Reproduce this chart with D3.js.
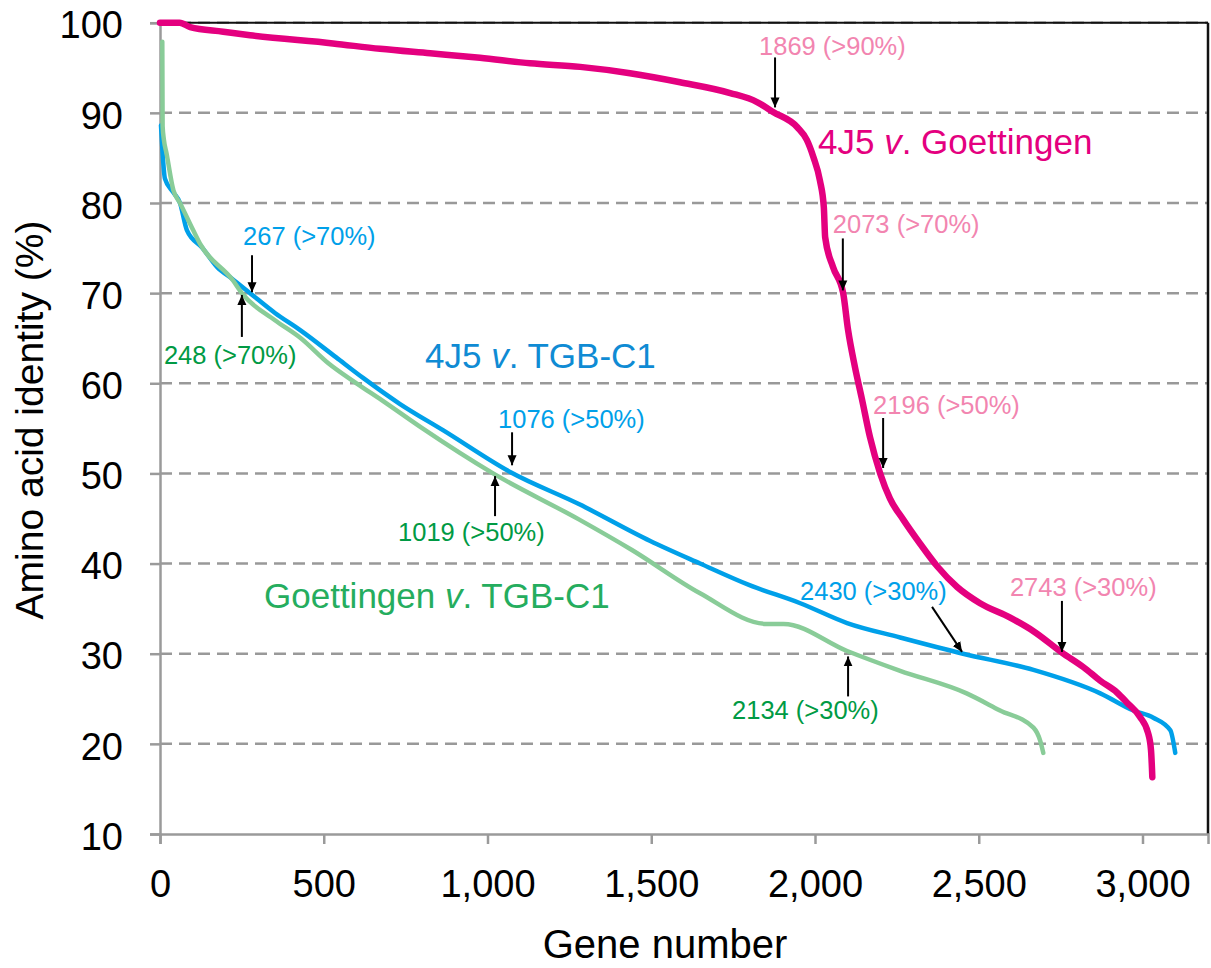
<!DOCTYPE html>
<html>
<head>
<meta charset="utf-8">
<script src="https://cdn.jsdelivr.net/npm/d3@7"></script>
<style>
  body { margin: 0; background: #fff; }
  text { font-family: "Liberation Sans", Arial, sans-serif; }
</style>
</head>
<body>
<div id="chart"></div>
<script>
var w = 1211,
    h = 968;

// 4J5 v. Goettingen
var pinkGene = [0, 60, 92, 193, 275, 528, 672, 825, 977, 1130, 1283, 1435, 1588, 1741, 1823, 1872, 1946, 1975, 1995, 2015, 2027, 2031, 2055, 2086, 2101, 2122, 2143, 2168, 2199, 2229, 2269, 2321, 2373, 2434, 2504, 2596, 2667, 2755, 2820, 2871, 2922, 2952, 2992, 3017, 3026, 3030];
var pinkIdentity = [100, 100, 99.5, 99.0, 98.6, 97.7, 97.1, 96.6, 96.1, 95.5, 95.1, 94.4, 93.4, 92.2, 91.2, 90.1, 88.4, 87.0, 85.1, 82.5, 79.5, 76.2, 72.9, 70.0, 65.9, 61.8, 58.3, 54.0, 50.0, 47.2, 44.9, 42.2, 39.7, 37.4, 35.6, 34.0, 32.5, 30.1, 28.5, 27.0, 25.7, 24.6, 23.0, 21.2, 19.3, 16.3];

// 4J5 v. TGB-C1
var blueGene = [3, 8, 15, 40, 61, 82, 130, 174, 220, 275, 351, 428, 537, 620, 733, 864, 1072, 1279, 1497, 1649, 1800, 1955, 2098, 2260, 2452, 2667, 2871, 2972, 3033, 3085, 3100];
var blueIdentity = [88.6, 85.5, 82.7, 81.2, 80.0, 77.0, 75.0, 72.9, 71.6, 70.0, 67.8, 65.9, 62.9, 60.6, 57.7, 54.8, 50.1, 46.6, 42.5, 40.0, 37.6, 35.6, 33.4, 31.8, 30.0, 28.2, 25.6, 23.7, 22.9, 21.5, 19.0];

// Goettingen v. TGB-C1
var greenGene = [7, 8, 12, 20, 41, 61, 101, 122, 223, 250, 351, 430, 515, 600, 678, 797, 1017, 1279, 1441, 1649, 1853, 1904, 2098, 2260, 2463, 2565, 2667, 2688, 2697];
var greenIdentity = [97.9, 88.5, 87.0, 85.5, 81.4, 80.0, 77.0, 75.5, 71.4, 70.0, 67.0, 65.0, 62.2, 60.0, 58.1, 55.1, 50.0, 44.9, 41.5, 36.7, 33.3, 33.3, 30.3, 28.1, 25.6, 23.7, 21.8, 20.3, 19.0];

var xTicks = [0, 500, 1000, 1500, 2000, 2500, 3000];
var yTicks = [10, 20, 30, 40, 50, 60, 70, 80, 90, 100];

// threshold callouts: text, gene, identity at arrow tip
var calloutText = ["1869 (>90%)", "2073 (>70%)", "2196 (>50%)", "2743 (>30%)",
                   "267 (>70%)", "1076 (>50%)", "2430 (>30%)",
                   "248 (>70%)", "1019 (>50%)", "2134 (>30%)"];
var calloutGene = [1878, 2085, 2208, 2754, 281, 1075, 2449, 250, 1023, 2101];
var calloutIdentity = [90.6, 70.3, 50.6, 30.2, 70.1, 50.9, 30.2, 69.8, 49.7, 29.7];

var margin = {left: 160, top: 22.7, right: 3, bottom: 134};

var x = d3.scaleLinear().domain([0, 3200]).range([margin.left, w - margin.right]);
var y = d3.scaleLinear().domain([10, 100]).range([h - margin.bottom, margin.top]);

var svg = d3.select("#chart")
    .append("svg")
    .attr("width", w)
    .attr("height", h);

var defs = svg.append("defs");
defs.append("marker")
    .attr("id", "head")
    .attr("viewBox", "0 0 10 12")
    .attr("refX", 10)
    .attr("refY", 6)
    .attr("markerWidth", 10)
    .attr("markerHeight", 12)
    .attr("markerUnits", "userSpaceOnUse")
    .attr("orient", "auto")
    .append("path")
    .attr("d", "M0,1.5 L10,6 L0,10.5 Z")
    .attr("fill", "#000");

// gridlines
svg.append("g")
    .selectAll("line")
    .data(yTicks.slice(1))
    .enter()
    .append("line")
    .attr("x1", x(0))
    .attr("x2", x(3200))
    .attr("y1", function(d) { return y(d); })
    .attr("y2", function(d) { return y(d); })
    .attr("stroke", "#999")
    .attr("stroke-width", 2.5)
    .attr("stroke-dasharray", "12,7");

// frame top + right
svg.append("line")
    .attr("x1", x(0)).attr("x2", x(3200))
    .attr("y1", y(100)).attr("y2", y(100))
    .attr("stroke", "#111").attr("stroke-width", 2);
svg.append("line")
    .attr("x1", x(3200)).attr("x2", x(3200))
    .attr("y1", y(100)).attr("y2", y(10))
    .attr("stroke", "#111").attr("stroke-width", 2.5);

// axes
var yAxis = svg.append("g")
    .attr("transform", "translate(" + x(0) + ",0)")
    .call(d3.axisLeft(y).tickValues(yTicks).tickSize(10).tickPadding(27));
var xAxis = svg.append("g")
    .attr("transform", "translate(0," + y(10) + ")")
    .call(d3.axisBottom(x).tickValues(xTicks).tickSize(10).tickPadding(26).tickFormat(d3.format(",")));

[xAxis, yAxis].forEach(function(a) {
    a.select(".domain").attr("stroke", "#9a9a9a").attr("stroke-width", 2.5);
    a.selectAll(".tick line").attr("stroke", "#9a9a9a").attr("stroke-width", 2.5);
    a.selectAll(".tick text")
        .attr("fill", "#000")
        .style("font-size", "38px")
        .style("font-family", "'Liberation Sans', Arial, sans-serif");
});
yAxis.selectAll(".tick text").attr("dy", "0.4em");

// axis titles
svg.append("text")
    .attr("x", 665)
    .attr("y", 958)
    .attr("text-anchor", "middle")
    .style("font-size", "40px")
    .text("Gene number");

svg.append("text")
    .attr("transform", "translate(43,420) rotate(-90)")
    .attr("text-anchor", "middle")
    .style("font-size", "39px")
    .text("Amino acid identity (%)");

// curves
var line = d3.line()
    .curve(d3.curveMonotoneX)
    .x(function(d) { return x(d[0]); })
    .y(function(d) { return y(d[1]); });

function pairs(g, v) {
    return g.map(function(d, i) { return [d, v[i]]; });
}

var series = [
    {name: "blue", data: pairs(blueGene, blueIdentity), color: "#00a0e9", width: 4.5},
    {name: "pink", data: pairs(pinkGene, pinkIdentity), color: "#e4007f", width: 6.5},
    {name: "green", data: pairs(greenGene, greenIdentity), color: "#89cc98", width: 4.5}
];

svg.selectAll(".curve")
    .data(series)
    .enter()
    .append("path")
    .attr("class", function(d) { return "curve " + d.name; })
    .attr("d", function(d) { return line(d.data); })
    .attr("fill", "none")
    .attr("stroke", function(d) { return d.color; })
    .attr("stroke-width", function(d) { return d.width; })
    .attr("stroke-linejoin", "round")
    .attr("stroke-linecap", "round");

// series labels
var labels = [
    {pre: "4J5 ", post: " Goettingen", x: 818, y: 154, color: "#e4007f"},
    {pre: "4J5 ", post: " TGB-C1", x: 425, y: 368, color: "#0f8bd4"},
    {pre: "Goettingen ", post: " TGB-C1", x: 264, y: 608, color: "#25ad5e"}
];
labels.forEach(function(l) {
    var t = svg.append("text")
        .attr("x", l.x)
        .attr("y", l.y)
        .attr("fill", l.color)
        .style("font-size", "35px");
    t.append("tspan").text(l.pre);
    t.append("tspan").style("font-style", "italic").text("v");
    t.append("tspan").text("." + l.post);
});

// callouts: arrow tail offset, text offset (px), colour
var calloutStyle = [
    {tail: [0, -50], text: [-16, -52], color: "#f285b0"},
    {tail: [0, -52], text: [-10, -57], color: "#f285b0"},
    {tail: [0, -50], text: [-10, -54], color: "#f285b0"},
    {tail: [0, -51], text: [-52, -56], color: "#f285b0"},
    {tail: [0, -37], text: [-9, -47], color: "#00a0e9"},
    {tail: [0, -33], text: [-14, -37], color: "#00a0e9"},
    {tail: [-30, -45], text: [-162, -52], color: "#00a0e9"},
    {tail: [0, 42], text: [-78, 69], color: "#009a44"},
    {tail: [0, 40], text: [-97, 65], color: "#009a44"},
    {tail: [0, 40], text: [-116, 63], color: "#009a44"}
];

var callouts = calloutText.map(function(t, i) {
    return {text: t, gx: x(calloutGene[i]), gy: y(calloutIdentity[i]), s: calloutStyle[i]};
});

var cg = svg.append("g");
cg.selectAll("line")
    .data(callouts)
    .enter()
    .append("line")
    .attr("x1", function(d) { return d.gx + d.s.tail[0]; })
    .attr("y1", function(d) { return d.gy + d.s.tail[1]; })
    .attr("x2", function(d) { return d.gx; })
    .attr("y2", function(d) { return d.gy; })
    .attr("stroke", "#000")
    .attr("stroke-width", 2)
    .attr("marker-end", "url(#head)");

cg.selectAll("text")
    .data(callouts)
    .enter()
    .append("text")
    .attr("x", function(d) { return d.gx + d.s.text[0]; })
    .attr("y", function(d) { return d.gy + d.s.text[1]; })
    .attr("fill", function(d) { return d.s.color; })
    .style("font-size", "25.5px")
    .text(function(d) { return d.text; });
</script>
</body>
</html>
